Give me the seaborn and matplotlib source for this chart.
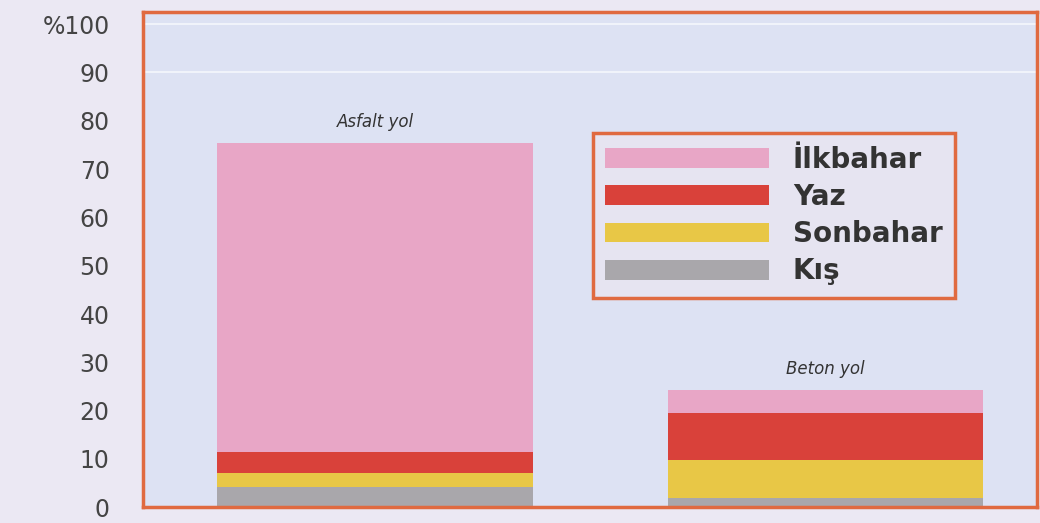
import numpy as np
import pandas as pd
import seaborn as sns
import matplotlib.pyplot as plt

roads = ['Asfalt yol', 'Beton yol']
seasons = ['İlkbahar', 'Yaz', 'Sonbahar', 'Kış']
kis = [4.3, 2.0]
sonbahar = [2.8, 7.8]
yaz = [4.3, 9.8]
ilkbahar = [63.9, 4.7]
season_colors = ['#e8a6c6', '#d9413a', '#e8c746', '#a9a7ab']
ticks = [0, 10, 20, 30, 40, 50, 60, 70, 80, 90, 100]
tick_labels = ['0', '10', '20', '30', '40', '50', '60', '70', '80', '90', '%100']

df = pd.DataFrame({'road': roads, 'Kış': kis, 'Sonbahar': sonbahar,
                   'Yaz': yaz, 'İlkbahar': ilkbahar})
# cumulative heights so the bars can be stacked
df['c_kis'] = df['Kış']
df['c_son'] = df['c_kis'] + df['Sonbahar']
df['c_yaz'] = df['c_son'] + df['Yaz']
df['c_ilk'] = df['c_yaz'] + df['İlkbahar']

sns.set_style('white')
plt.rcParams['font.family'] = ['DejaVu Sans']

fig = plt.figure(figsize=(10.4, 5.23), dpi=100, facecolor='#ebe8f3')
ax = fig.add_axes([0.1375, 0.03, 0.86, 0.947])
ax.set_facecolor('#dde2f3')

cols = ['c_ilk', 'c_yaz', 'c_son', 'c_kis']
for col, name, c in zip(cols, seasons, season_colors):
    sns.barplot(data=df, x='road', y=col, color=c, width=0.7,
                saturation=1, label=name, linewidth=0, ax=ax)

ax.set_xlim(-0.515, 1.47)
ax.set_ylim(0, 102.5)
ax.set_yticks(ticks)
ax.set_yticklabels(tick_labels, fontsize=17, color='#444444')
ax.tick_params(axis='y', length=0, pad=24)
ax.set_xticks([])
ax.set_xlabel('')
ax.set_ylabel('')
for s in ax.spines.values():
    s.set_color('#e06a40')
    s.set_linewidth(2.5)

# faint white grid lines near the top
for v in [90, 100]:
    ax.axhline(v, color='white', lw=1.2, alpha=0.7, zorder=0)

ax.text(0, df['c_ilk'][0] + 2.5, 'Asfalt yol', ha='center', va='bottom',
        style='italic', fontsize=12, color='#333333')
ax.text(1, df['c_ilk'][1] + 2.5, 'Beton yol', ha='center', va='bottom',
        style='italic', fontsize=12, color='#333333')

leg = ax.legend(loc='upper left', bbox_to_anchor=(0.503, 0.755),
                handlelength=5.9, handleheight=0.72, handletextpad=0.85,
                labelspacing=0.33, borderpad=0.45, borderaxespad=0,
                frameon=True, fancybox=False,
                prop={'weight': 'bold', 'size': 20})
leg.get_frame().set_edgecolor('#e06a40')
leg.get_frame().set_linewidth(2.5)
leg.get_frame().set_facecolor('#e6e4f1')
leg.get_frame().set_alpha(1)
for t in leg.get_texts():
    t.set_color('#333333')
for h in leg.legend_handles:
    h.set_linewidth(0)

fig.savefig('out.png', dpi=100, facecolor=fig.get_facecolor())
